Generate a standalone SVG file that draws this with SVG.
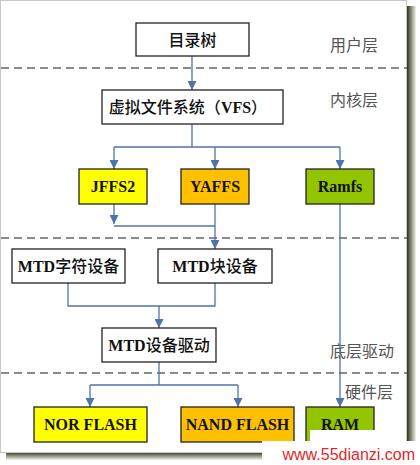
<svg xmlns="http://www.w3.org/2000/svg" width="420" height="465" viewBox="0 0 420 465">
<defs>
<marker id="ah" viewBox="0 0 10 10" refX="10" refY="5" markerWidth="9" markerHeight="9" markerUnits="userSpaceOnUse" orient="auto">
<path d="M0,0 L10,5 L0,10 z" fill="#4f74aa"/>
</marker>
<linearGradient id="shr" x1="0" y1="0" x2="1" y2="0">
<stop offset="0" stop-color="#2f3318"/><stop offset="1" stop-color="#f4f4ea"/>
</linearGradient>
<linearGradient id="shb" x1="0" y1="0" x2="0" y2="1">
<stop offset="0" stop-color="#2f3318"/><stop offset="1" stop-color="#f4f4ea"/>
</linearGradient>
</defs>
<style>
.box{stroke:#222;stroke-width:1.3}
.t{font-family:"Liberation Serif","Noto Sans CJK SC",serif;font-size:16px;font-weight:bold;fill:#111;text-anchor:middle;dominant-baseline:central}
.cj{font-weight:500}
.lay{font-family:"Liberation Serif","Noto Sans CJK SC",serif;font-size:16px;fill:#555;dominant-baseline:central}
.dash{stroke:#666;stroke-width:1.6;stroke-dasharray:8,5}
.c{stroke:#4f74aa;stroke-width:1.3;fill:none}
</style>
<rect width="420" height="465" fill="#ffffff"/>
<rect x="407" y="6" width="9" height="450" fill="url(#shr)"/>
<rect x="6" y="452" width="410" height="8" fill="url(#shb)"/>
<rect x="0.5" y="0.5" width="406" height="452" fill="#ffffff" stroke="#c8c8c8" stroke-width="1"/>
<g id="dividers">
<line class="dash" x1="1" y1="68" x2="407" y2="68"/>
<line class="dash" x1="1" y1="238" x2="407" y2="238"/>
<line class="dash" x1="1" y1="373" x2="407" y2="373"/>
</g>
<g id="layers">
<text class="lay" x="330" y="45">用户层</text>
<text class="lay" x="330" y="100">内核层</text>
<text class="lay" x="330" y="351">底层驱动</text>
<text class="lay" x="345" y="392">硬件层</text>
</g>
<g id="connectors">
<line class="c" x1="192" y1="56" x2="192" y2="90" marker-end="url(#ah)"/>
<polyline class="c" points="192,124 192,147"/>
<polyline class="c" points="114,147 340,147"/>
<line class="c" x1="114" y1="147" x2="114" y2="169" marker-end="url(#ah)"/>
<line class="c" x1="215" y1="147" x2="215" y2="169" marker-end="url(#ah)"/>
<line class="c" x1="340" y1="147" x2="340" y2="169" marker-end="url(#ah)"/>
<line class="c" x1="114" y1="204" x2="114" y2="224" marker-end="url(#ah)"/>
<polyline class="c" points="114,226 215,226"/>
<line class="c" x1="215" y1="204" x2="215" y2="249" marker-end="url(#ah)"/>
<line class="c" x1="340" y1="204" x2="340" y2="407" marker-end="url(#ah)"/>
<polyline class="c" points="68,283 68,306 215,306 215,283"/>
<line class="c" x1="159" y1="306" x2="159" y2="328" marker-end="url(#ah)"/>
<polyline class="c" points="159,362 159,385"/>
<polyline class="c" points="90,385 238,385"/>
<line class="c" x1="90" y1="385" x2="90" y2="407" marker-end="url(#ah)"/>
<line class="c" x1="238" y1="385" x2="238" y2="407" marker-end="url(#ah)"/>
</g>
<g id="n-tree"><rect class="box" x="136" y="23" width="113" height="33" fill="#fff"/><text class="t" x="192.5" y="40"><tspan class="cj">目录树</tspan></text></g>
<g id="n-vfs"><rect class="box" x="102" y="90" width="181" height="34" fill="#fff"/><text class="t" x="188" y="107"><tspan class="cj">虚拟文件系统（</tspan>VFS<tspan class="cj">）</tspan></text></g>
<g id="n-jffs2"><rect class="box" x="79" y="169" width="68" height="35" fill="#ffff00"/><text class="t" x="113" y="186.5" font-size="15">JFFS2</text></g>
<g id="n-yaffs"><rect class="box" x="181" y="169" width="68" height="35" fill="#ffc000"/><text class="t" x="215" y="186.5" font-size="15">YAFFS</text></g>
<g id="n-ramfs"><rect class="box" x="306" y="169" width="68" height="35" fill="#92c500"/><text class="t" x="340" y="186.5" font-size="15">Ramfs</text></g>
<g id="n-mtdchar"><rect class="box" x="12" y="249" width="113" height="34" fill="#fff"/><text class="t" x="68.5" y="266">MTD<tspan class="cj">字符设备</tspan></text></g>
<g id="n-mtdblock"><rect class="box" x="158" y="249" width="114" height="34" fill="#fff"/><text class="t" x="215" y="266">MTD<tspan class="cj">块设备</tspan></text></g>
<g id="n-mtddrv"><rect class="box" x="102" y="328" width="114" height="34" fill="#fff"/><text class="t" x="159" y="345">MTD<tspan class="cj">设备驱动</tspan></text></g>
<g id="n-nor"><rect class="box" x="34" y="407" width="113" height="35" fill="#ffff00"/><text class="t" x="90.5" y="424.5" font-size="15">NOR FLASH</text></g>
<g id="n-nand"><rect class="box" x="181" y="407" width="113" height="35" fill="#ffc000"/><text class="t" x="237.5" y="424.5" font-size="15">NAND FLASH</text></g>
<g id="n-ram"><rect class="box" x="306" y="407" width="68" height="40" fill="#92c500"/><text class="t" x="340" y="424.5" font-size="15">RAM</text></g>
<rect x="310" y="430" width="70" height="13" fill="#ffffff"/>
<rect x="262" y="441" width="158" height="24" fill="#ffffff"/>
<text x="415" y="460" font-family="Liberation Sans, sans-serif" font-size="16" fill="#e0282a" text-anchor="end">www.55dianzi.com</text>
</svg>
